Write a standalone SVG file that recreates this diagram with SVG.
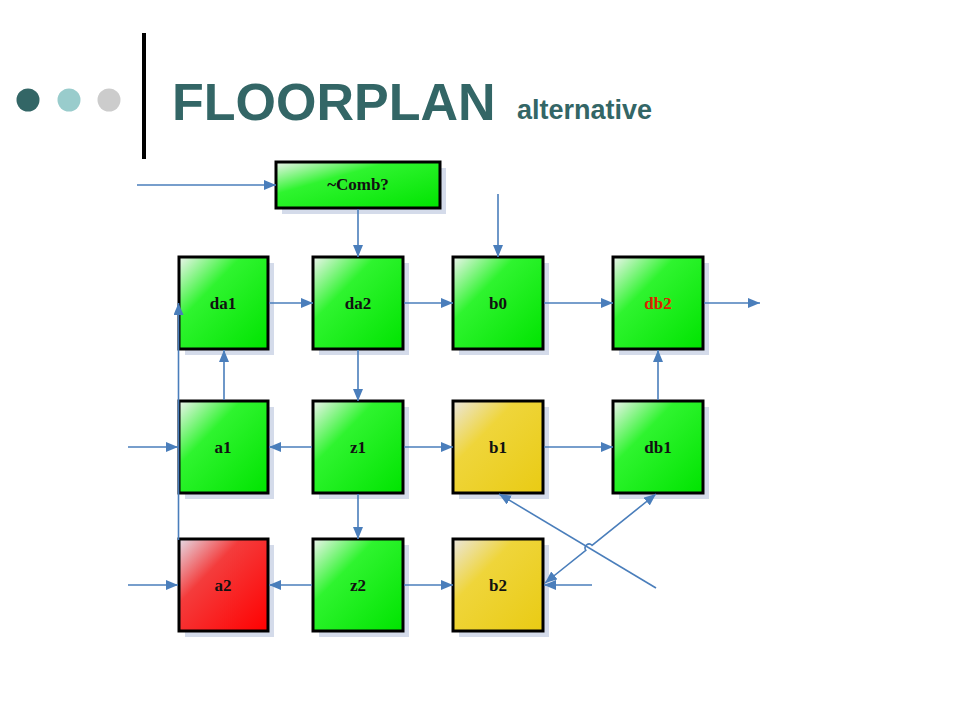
<svg xmlns="http://www.w3.org/2000/svg" width="960" height="720" viewBox="0 0 960 720">
<style>
.box{stroke:#000;stroke-width:3}
.sh{fill:#d4dbea}
.lbl{font-family:"Liberation Serif","Times New Roman",serif;font-weight:bold;font-size:17px;text-anchor:middle;fill:#111}
.c{fill:none;stroke:#4a7ebb;stroke-width:1.6}
.title{font-family:"Liberation Sans",Arial,sans-serif;font-weight:bold;fill:#336666}
</style>
<defs>
<linearGradient id="gG" x1="0" y1="0" x2="1" y2="1">
<stop offset="0" stop-color="#eef4ee"/>
<stop offset="0.35" stop-color="#2ff42f"/>
<stop offset="1" stop-color="#00e400"/>
</linearGradient>
<linearGradient id="gR" x1="0" y1="0" x2="1" y2="1">
<stop offset="0" stop-color="#e4dce6"/>
<stop offset="0.35" stop-color="#f43c3c"/>
<stop offset="1" stop-color="#ff0000"/>
</linearGradient>
<linearGradient id="gY" x1="0" y1="0" x2="1" y2="1">
<stop offset="0" stop-color="#ebe6dc"/>
<stop offset="0.35" stop-color="#efd53a"/>
<stop offset="1" stop-color="#e9cb14"/>
</linearGradient>
<marker id="ah" markerUnits="userSpaceOnUse" markerWidth="13" markerHeight="11" refX="12" refY="5" orient="auto-start-reverse" viewBox="0 0 13 11">
<path d="M0,0 L12,5 L0,10 z" fill="#4a7ebb"/>
</marker>
</defs>
<rect width="960" height="720" fill="#fff"/>
<g id="header">
<circle cx="28" cy="100" r="11.5" fill="#336666"/>
<circle cx="69" cy="100" r="11.5" fill="#99cccc"/>
<circle cx="109" cy="100" r="11.5" fill="#cccccc"/>
<rect x="142" y="33" width="4" height="126" fill="#000"/>
<text class="title" x="172" y="120" font-size="52">FLOORPLAN</text>
<text class="title" x="517" y="119" font-size="27">alternative</text>
</g>
<g id="comb">
<rect class="sh" x="282" y="168" width="164" height="46"/>
<rect class="box" x="276" y="162" width="164" height="46" fill="url(#gG)"/>
<text class="lbl" x="358" y="190">~Comb?</text>
</g>
<g id="da1"><rect class="sh" x="185" y="263" width="89" height="92"/><rect class="box" x="179" y="257" width="89" height="92" fill="url(#gG)"/><text class="lbl" x="223" y="309">da1</text></g>
<g id="da2"><rect class="sh" x="319" y="263" width="90" height="92"/><rect class="box" x="313" y="257" width="90" height="92" fill="url(#gG)"/><text class="lbl" x="358" y="309">da2</text></g>
<g id="b0"><rect class="sh" x="459" y="263" width="90" height="92"/><rect class="box" x="453" y="257" width="90" height="92" fill="url(#gG)"/><text class="lbl" x="498" y="309">b0</text></g>
<g id="db2"><rect class="sh" x="619" y="263" width="90" height="92"/><rect class="box" x="613" y="257" width="90" height="92" fill="url(#gG)"/><text class="lbl" x="658" y="309" style="fill:#dd2200">db2</text></g>
<g id="a1"><rect class="sh" x="185" y="407" width="89" height="92"/><rect class="box" x="179" y="401" width="89" height="92" fill="url(#gG)"/><text class="lbl" x="223" y="453">a1</text></g>
<g id="z1"><rect class="sh" x="319" y="407" width="90" height="92"/><rect class="box" x="313" y="401" width="90" height="92" fill="url(#gG)"/><text class="lbl" x="358" y="453">z1</text></g>
<g id="b1"><rect class="sh" x="459" y="407" width="90" height="92"/><rect class="box" x="453" y="401" width="90" height="92" fill="url(#gY)"/><text class="lbl" x="498" y="453">b1</text></g>
<g id="db1"><rect class="sh" x="619" y="407" width="90" height="92"/><rect class="box" x="613" y="401" width="90" height="92" fill="url(#gG)"/><text class="lbl" x="658" y="453">db1</text></g>
<g id="a2"><rect class="sh" x="185" y="545" width="89" height="92"/><rect class="box" x="179" y="539" width="89" height="92" fill="url(#gR)"/><text class="lbl" x="223" y="591">a2</text></g>
<g id="z2"><rect class="sh" x="319" y="545" width="90" height="92"/><rect class="box" x="313" y="539" width="90" height="92" fill="url(#gG)"/><text class="lbl" x="358" y="591">z2</text></g>
<g id="b2"><rect class="sh" x="459" y="545" width="90" height="92"/><rect class="box" x="453" y="539" width="90" height="92" fill="url(#gY)"/><text class="lbl" x="498" y="591">b2</text></g>
<g id="connectors">
<line class="c" x1="137" y1="185" x2="276" y2="185" marker-end="url(#ah)"/>
<line class="c" x1="358" y1="209" x2="358" y2="257" marker-end="url(#ah)"/>
<line class="c" x1="498" y1="194" x2="498" y2="257" marker-end="url(#ah)"/>
<line class="c" x1="269" y1="303" x2="313" y2="303" marker-end="url(#ah)"/>
<line class="c" x1="404" y1="303" x2="453" y2="303" marker-end="url(#ah)"/>
<line class="c" x1="544" y1="303" x2="613" y2="303" marker-end="url(#ah)"/>
<line class="c" x1="704" y1="303" x2="760" y2="303" marker-end="url(#ah)"/>
<line class="c" x1="224" y1="400" x2="224" y2="350" marker-end="url(#ah)"/>
<line class="c" x1="358" y1="350" x2="358" y2="401" marker-end="url(#ah)"/>
<line class="c" x1="658" y1="400" x2="658" y2="350" marker-end="url(#ah)"/>
<line class="c" x1="128" y1="447" x2="178" y2="447" marker-end="url(#ah)"/>
<line class="c" x1="312" y1="447" x2="269" y2="447" marker-end="url(#ah)"/>
<line class="c" x1="404" y1="447" x2="453" y2="447" marker-end="url(#ah)"/>
<line class="c" x1="544" y1="447" x2="613" y2="447" marker-end="url(#ah)"/>
<line class="c" x1="358" y1="494" x2="358" y2="539" marker-end="url(#ah)"/>
<line class="c" x1="128" y1="585" x2="178" y2="585" marker-end="url(#ah)"/>
<line class="c" x1="312" y1="585" x2="269" y2="585" marker-end="url(#ah)"/>
<line class="c" x1="404" y1="585" x2="453" y2="585" marker-end="url(#ah)"/>
<line class="c" x1="592" y1="585" x2="544" y2="585" marker-end="url(#ah)"/>
<line class="c" x1="178.5" y1="540" x2="178.5" y2="303" marker-end="url(#ah)"/>
<line class="c" x1="656" y1="588" x2="499" y2="494" marker-end="url(#ah)"/>
<path class="c" d="M545,583 L585.8,550.3 A4,4 0 0 1 592,545.3 L656,494" marker-start="url(#ah)" marker-end="url(#ah)"/>
</g>
</svg>
